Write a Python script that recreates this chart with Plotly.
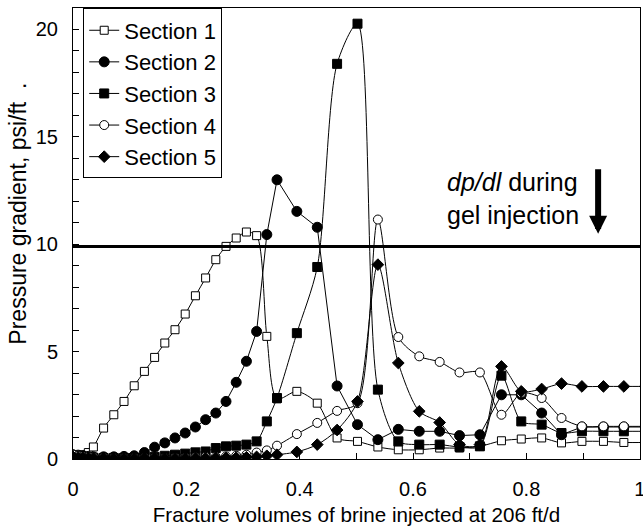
import plotly.graph_objects as go

# Fracture volumes of brine injected (shared x grid)
fv = [0, 0.009, 0.018, 0.027, 0.036, 0.054, 0.072, 0.090, 0.108, 0.126, 0.144, 0.162,
      0.180, 0.198, 0.216, 0.234, 0.252, 0.270, 0.288, 0.306, 0.324, 0.342, 0.360,
      0.395, 0.431, 0.466, 0.502, 0.538, 0.574, 0.611, 0.647, 0.682, 0.718, 0.756,
      0.791, 0.827, 0.862, 0.898, 0.936, 0.972, 1.01]

section1 = [0.1, 0.15, 0.2, 0.3, 0.56, 1.44, 2.06, 2.68, 3.41, 4.08, 4.73, 5.4, 6.02, 6.75,
            7.6, 8.43, 9.28, 9.9, 10.29, 10.57, 10.4, 5.71, 2.8, 3.15, 2.6, 0.98, 0.82, 0.56,
            0.43, 0.43, 0.51, 0.51, 0.59, 0.85, 0.93, 0.98, 0.75, 0.82, 0.82, 0.77, 0.77]
section2 = [0.2, 0.18, 0.15, 0.12, 0.1, 0.1, 0.1, 0.12, 0.15, 0.3, 0.55, 0.75, 0.98, 1.21,
            1.49, 1.83, 2.14, 2.68, 3.57, 4.55, 5.94, 10.45, 13.0, 11.53, 10.79, 3.4, 1.6, 0.9,
            1.38, 1.29, 1.29, 1.09, 1.13, 2.99, 2.99, 2.14, 1.13, 1.49, 1.49, 1.49, 1.49]
section3 = [0.15, 0.12, 0.1, 0.08, 0.06, 0.05, 0.05, 0.05, 0.05, 0.06, 0.1, 0.15, 0.2, 0.25,
            0.31, 0.35, 0.51, 0.59, 0.62, 0.67, 0.82, 1.75, 2.84, 5.86, 8.94, 18.4, 20.27, 3.23,
            0.82, 0.67, 0.67, 0.56, 0.59, 3.88, 1.75, 1.6, 1.21, 1.29, 1.29, 1.29, 1.29]
section4 = [0.2, 0.15, 0.12, 0.1, 0.08, 0.06, 0.05, 0.05, 0.05, 0.05, 0.05, 0.05, 0.06, 0.06,
            0.08, 0.1, 0.1, 0.12, 0.15, 0.2, 0.3, 0.4, 0.62, 1.16, 1.68, 2.24, 2.6, 11.15, 5.68,
            4.78, 4.52, 4.03, 4.03, 2.06, 3.07, 2.84, 1.91, 1.52, 1.52, 1.52, 1.52]
section5 = [0.1, 0.08, 0.06, 0.05, 0.04, 0.03, 0.03, 0.03, 0.03, 0.03, 0.03, 0.03, 0.03, 0.03,
            0.04, 0.04, 0.05, 0.05, 0.06, 0.08, 0.1, 0.15, 0.2, 0.33, 0.67, 1.35, 2.68, 9.05,
            4.47, 2.22, 1.7, 0.67, 0.67, 4.31, 3.15, 3.26, 3.51, 3.38, 3.38, 3.38, 3.38]

names = ["Section 1", "Section 2", "Section 3", "Section 4", "Section 5"]
gel_dpdl = 9.9

FONT = "Liberation Sans, Arial, sans-serif"

styles = [
    dict(symbol="square", size=8, color="white", shape="spline"),
    dict(symbol="circle", size=10, color="black", shape="linear"),
    dict(symbol="square", size=9, color="black", shape="spline"),
    dict(symbol="circle", size=9, color="white", shape="spline"),
    dict(symbol="diamond", size=9, color="black", shape="spline"),
]
series = [section1, section2, section3, section4, section5]

fig = go.Figure()
for name, ys, st in zip(names, series, styles):
    fig.add_trace(go.Scatter(
        x=fv, y=ys, name=name, mode="lines+markers",
        line=dict(color="black", width=1, shape=st["shape"], smoothing=0.8),
        marker=dict(symbol=st["symbol"], size=st["size"], color=st["color"],
                    line=dict(color="black", width=1)),
    ))

fig.add_shape(type="line", xref="paper", yref="y", x0=0, x1=1, y0=gel_dpdl, y1=gel_dpdl,
              line=dict(color="black", width=3))

fig.add_annotation(x=0.657, y=12.15, xref="x", yref="y", xanchor="left", yanchor="middle",
                   text="<i>dp/dl</i> during<br>gel injection", showarrow=False, align="left",
                   font=dict(family=FONT, size=25, color="black"))
fig.add_annotation(x=0.9266, y=10.49, xref="x", yref="y", ax=0, ay=-66, text="",
                   showarrow=True, arrowhead=2, arrowwidth=6, arrowsize=0.6, arrowcolor="black")

# y-axis title as a rotated text annotation
fig.add_annotation(x=-0.097, y=0.544, xref="paper", yref="paper", xanchor="center",
                   yanchor="middle", textangle=-90, showarrow=False,
                   text="Pressure gradient, psi/ft  .",
                   font=dict(family=FONT, size=23, color="black"))

fig.update_layout(
    width=643, height=529,
    margin=dict(l=73, r=3, t=8, b=70, autoexpand=False),
    paper_bgcolor="white", plot_bgcolor="white",
    font=dict(family=FONT, size=20, color="black"),
    showlegend=True,
    legend=dict(x=0.018, y=0.999, xanchor="left", yanchor="top",
                bordercolor="black", borderwidth=1, bgcolor="white",
                font=dict(family=FONT, size=22), itemwidth=30, tracegroupgap=0),
)
fig.update_xaxes(range=[0, 1.0005], dtick=0.2, tick0=0, ticks="inside", ticklen=6,
                 tickcolor="black", showline=True, linecolor="black", linewidth=1,
                 mirror=True, showgrid=False, zeroline=False, ticklabelstandoff=12,
                 ticklabeloverflow="allow", automargin=False,
                 minor=dict(dtick=0.1, ticks="inside", ticklen=6, tickcolor="black", showgrid=False),
                 title=dict(text="Fracture volumes of brine injected at 206 ft/d",
                            font=dict(size=20.6), standoff=8))
fig.update_yaxes(range=[0, 21], dtick=5, tick0=0, ticks="inside", ticklen=6,
                 tickcolor="black", showline=True, linecolor="black", linewidth=1,
                 mirror=True, showgrid=False, zeroline=False, ticklabelstandoff=10,
                 automargin=False,
                 minor=dict(dtick=1, ticks="inside", ticklen=6, tickcolor="black", showgrid=False))

fig.write_html("out.html")
